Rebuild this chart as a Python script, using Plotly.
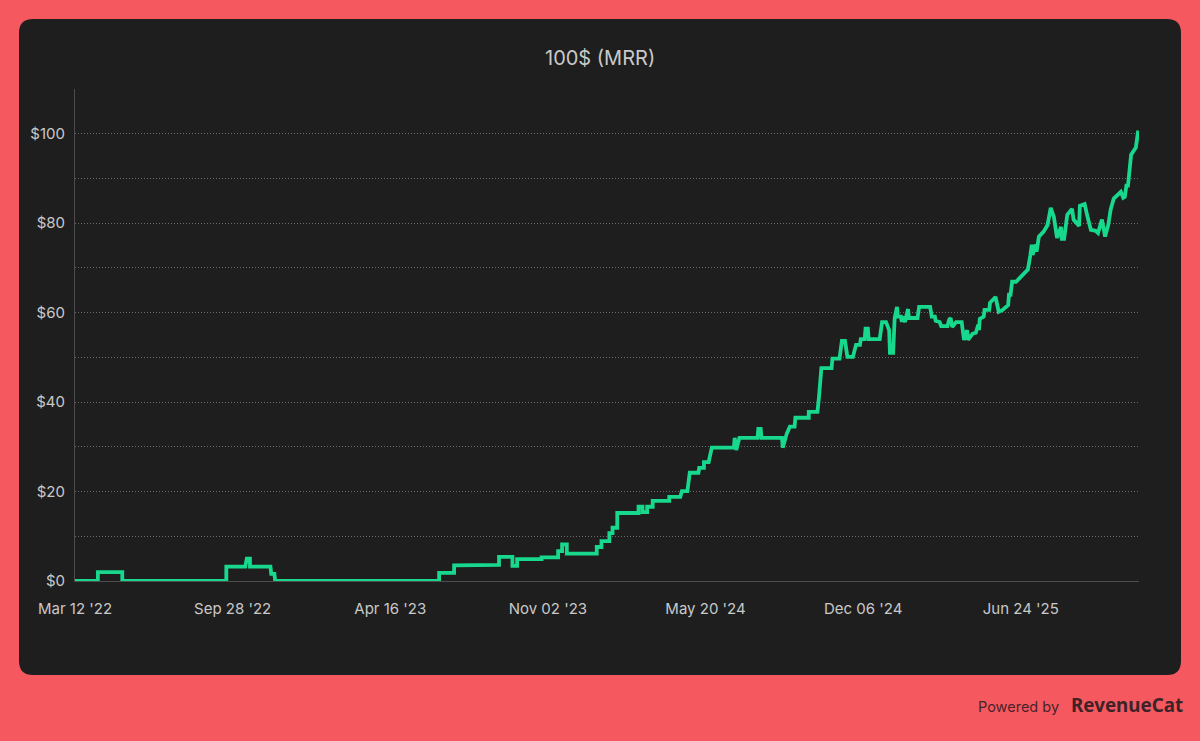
import pandas as pd
import plotly.graph_objects as go

START_DATE = "2022-03-12"

# days since START_DATE
day_offsets = [
    0, 29, 29, 60, 60, 192, 192, 216, 218, 222, 222, 248, 249, 253, 254, 462, 462, 481, 481, 538,
    538, 555, 555, 561, 561, 592, 592, 613, 613, 618, 618, 624, 624, 662, 662, 668, 668, 678, 678, 682,
    682, 688, 688, 715, 715, 720, 720, 726, 726, 733, 733, 754, 754, 768, 770, 777, 780, 791, 792, 798,
    798, 804, 808, 836, 837, 839, 843, 866, 867, 870, 871, 897, 898, 903, 907, 913, 914, 931, 931, 942,
    944, 947, 960, 961, 970, 973, 977, 980, 987, 991, 996, 997, 1002, 1003, 1006, 1007, 1021, 1024, 1029, 1033,
    1034, 1038, 1040, 1043, 1044, 1048, 1049, 1050, 1053, 1057, 1058, 1069, 1071, 1085, 1087, 1091, 1092, 1097, 1099, 1107,
    1109, 1111, 1113, 1118, 1125, 1128, 1132, 1133, 1139, 1143, 1146, 1147, 1148, 1153, 1154, 1160, 1161, 1168, 1172, 1177,
    1184, 1185, 1187, 1189, 1194, 1209, 1212, 1214, 1215, 1219, 1220, 1223, 1229, 1234, 1238, 1242, 1246, 1251, 1252, 1255,
    1259, 1265, 1267, 1273, 1274, 1275, 1281, 1285, 1289, 1295, 1298, 1303, 1307, 1311, 1314, 1318, 1327, 1330, 1332, 1334,
    1336, 1340, 1346, 1349,
]
mrr = [
    0, 0, 2.0, 2.0, 0, 0, 3.2, 3.2, 5.0, 5.0, 3.2, 3.2, 1.6, 1.6, 0, 0, 1.8, 1.8, 3.5, 3.6,
    5.4, 5.4, 3.4, 3.4, 4.9, 4.9, 5.3, 5.3, 6.7, 6.7, 8.2, 8.2, 6.1, 6.1, 7.6, 7.6, 8.9, 8.9, 10.7, 10.7,
    11.9, 11.9, 15.2, 15.2, 16.6, 16.6, 15.4, 15.4, 16.6, 16.6, 17.9, 17.9, 18.8, 18.8, 20.1, 20.1, 24.2, 24.2, 25.3, 25.3,
    26.6, 26.6, 29.8, 29.8, 32, 29.3, 32, 32, 34, 34, 32, 32, 29.8, 32.9, 34.5, 34.5, 36.5, 36.5, 37.8, 37.8,
    41.2, 47.6, 47.6, 49.7, 49.7, 53.7, 53.7, 50.1, 50.1, 52.8, 52.8, 54.1, 54.1, 56.4, 56.4, 54.1, 54.1, 57.9, 57.9, 56.1,
    51.0, 51.0, 58.8, 61.3, 59.1, 59.1, 57.9, 59.1, 57.9, 60.8, 58.8, 58.8, 61.3, 61.3, 59.1, 59.1, 58.2, 57.9, 57, 57,
    58.4, 58.8, 56.8, 57.9, 57.9, 53.9, 56.1, 53.9, 55.3, 55.5, 57.3, 56.1, 58.6, 59.1, 60.6, 60.6, 62.2, 63.5, 60.2, 60.6,
    61.7, 64, 64, 66.9, 66.9, 69.6, 72.7, 75.2, 72.9, 75.2, 73.6, 77, 78.1, 79.6, 83.4, 81.4, 76.7, 79.2, 76.5, 76.5,
    81.9, 83.2, 80.8, 79.4, 79.4, 83.9, 84.3, 81.2, 78.5, 78.3, 77.8, 80.8, 77, 79.6, 83, 85.5, 87, 85.7, 85.9, 88.4,
    88.4, 95.3, 96.9, 100.7,
]

tick_dates = ["2022-03-12", "2022-09-28", "2023-04-16", "2023-11-02", "2024-05-20", "2024-12-06", "2025-06-24"]
tick_labels = ["Mar 12 '22", "Sep 28 '22", "Apr 16 '23", "Nov 02 '23", "May 20 '24", "Dec 06 '24", "Jun 24 '25"]
y_ticks = [0, 20, 40, 60, 80, 100]
y_labels = ["$0", "$20", "$40", "$60", "$80", "$100"]

WIDTH, HEIGHT = 1200, 741
LEFT, RIGHT, TOP, BOTTOM = 75, 61, 89, 160
PAGE = "#f65860"
PANEL = "#1e1e1e"
TEXT = "#c9c9c9"
FONT = "Inter"
GRID = "#6a6a6a"


def px(x):
    return (x - LEFT) / (WIDTH - LEFT - RIGHT)


def py(y):
    return 1 - (y - TOP) / (HEIGHT - TOP - BOTTOM)


def panel_path(x0, y0, x1, y1, r):
    # rounded rectangle in paper coordinates
    return (
        f"M {px(x0 + r)} {py(y0)} L {px(x1 - r)} {py(y0)} "
        f"Q {px(x1)} {py(y0)} {px(x1)} {py(y0 + r)} L {px(x1)} {py(y1 - r)} "
        f"Q {px(x1)} {py(y1)} {px(x1 - r)} {py(y1)} L {px(x0 + r)} {py(y1)} "
        f"Q {px(x0)} {py(y1)} {px(x0)} {py(y1 - r)} L {px(x0)} {py(y0 + r)} "
        f"Q {px(x0)} {py(y0)} {px(x0 + r)} {py(y0)} Z"
    )


dates = pd.Timestamp(START_DATE) + pd.to_timedelta(day_offsets, unit="D")

fig = go.Figure()
fig.add_trace(go.Scatter(
    x=dates, y=mrr, mode="lines",
    line=dict(color="#17d88c", width=3.8, shape="linear"),
    cliponaxis=False,
))

fig.add_shape(type="path", xref="paper", yref="paper", path=panel_path(19, 19, 1181, 675, 14),
              fillcolor=PANEL, line=dict(width=0), layer="below")

fig.add_annotation(text="100$ (MRR)", xref="paper", yref="paper", x=px(600), y=py(58), yanchor="middle",
                   showarrow=False, font=dict(family=FONT, size=20, color=TEXT))
fig.add_annotation(text="Powered by", xref="paper", yref="paper", x=px(1061), y=py(706), xanchor="right",
                   yanchor="middle", showarrow=False, font=dict(family=FONT, size=14.5, color="#4a2228"))
fig.add_annotation(text="<b>RevenueCat</b>", xref="paper", yref="paper", x=px(1069), y=py(705), xanchor="left",
                   yanchor="middle", showarrow=False, font=dict(family="Noto Sans", size=18.8, color="#3d2327"))

fig.update_xaxes(
    range=[pd.Timestamp(START_DATE), pd.Timestamp(START_DATE) + pd.Timedelta(days=1350)],
    tickmode="array", tickvals=tick_dates, ticktext=tick_labels,
    showgrid=False, zeroline=False, showline=True, linecolor="#4d4d4d", linewidth=1,
    ticks="outside", ticklen=14, tickcolor="rgba(0,0,0,0)",
    tickfont=dict(family=FONT, size=15, color=TEXT),
)
fig.update_yaxes(
    range=[0, 110], tickmode="array", tickvals=y_ticks, ticktext=y_labels,
    showgrid=True, gridcolor=GRID, griddash="1px,2px", gridwidth=1,
    minor=dict(tickmode="array", tickvals=[10, 30, 50, 70, 90, 110], showgrid=True,
               gridcolor=GRID, griddash="1px,2px", gridwidth=1),
    zeroline=False, showline=True, linecolor="#4d4d4d", linewidth=1,
    ticks="outside", ticklen=6, tickcolor="rgba(0,0,0,0)",
    tickfont=dict(family=FONT, size=15, color=TEXT),
)
fig.update_layout(
    width=WIDTH, height=HEIGHT,
    margin=dict(l=LEFT, r=RIGHT, t=TOP, b=BOTTOM, pad=0),
    paper_bgcolor=PAGE, plot_bgcolor="rgba(0,0,0,0)",
    showlegend=False,
)

fig.write_html("out.html", config={"displayModeBar": False},
               post_script="document.body.style.margin='0';document.body.style.background='" + PAGE + "';")
